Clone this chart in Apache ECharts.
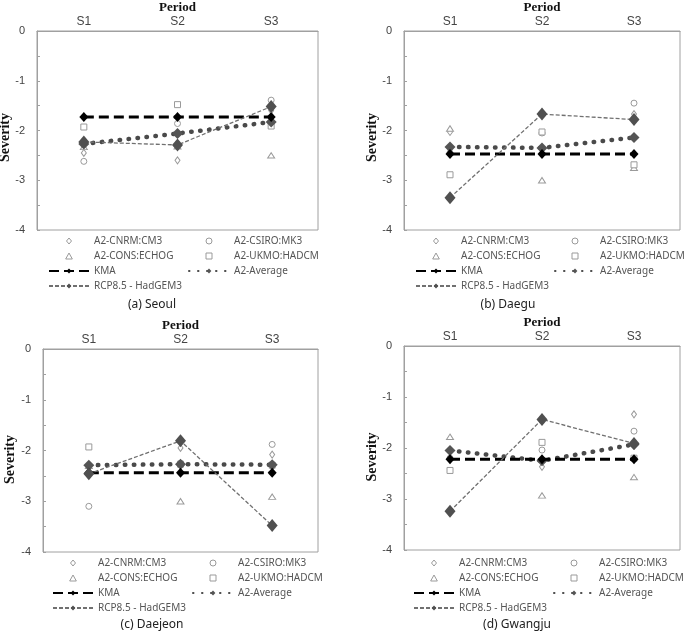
<!DOCTYPE html>
<html>
<head>
<meta charset="utf-8">
<title>Severity by period</title>
<script src="https://cdn.jsdelivr.net/npm/echarts@6.0.0/dist/echarts.min.js"></script>
<style>
  html, body { margin: 0; padding: 0; background: #fff; }
  #chart { width: 691px; height: 641px; }
</style>
</head>
<body>
<div id="chart"></div>
<script>
// periods on the (top) category axis
const periods = ['S1', 'S2', 'S3'];
const cities = ['(a) Seoul', '(b) Daegu', '(c) Daejeon', '(d) Gwangju'];
const yTicks = [0, -1, -2, -3, -4];

// one row per city (Seoul, Daegu, Daejeon, Gwangju), one value per period
const cnrmCM3 = [
  [-2.45, -2.60, -1.60],
  [-2.03, -2.35, -1.67],
  [-2.30, -1.95, -2.08],
  [-2.19, -2.37, -1.34]
];
const csiroMK3 = [
  [-2.62, -1.86, -1.39],
  [-2.45, -2.05, -1.45],
  [-3.10, -2.25, -1.88],
  [-2.20, -2.04, -1.67]
];
const consECHOG = [
  [-2.33, -2.32, -2.50],
  [-1.96, -3.00, -2.75],
  [-2.30, -3.00, -2.91],
  [-1.78, -2.93, -2.57]
];
const ukmoHADCM = [
  [-1.93, -1.48, -1.91],
  [-2.89, -2.03, -2.69],
  [-1.93, -2.27, -2.29],
  [-2.44, -1.89, -2.20]
];
const kma = [
  [-1.73, -1.73, -1.73],
  [-2.47, -2.47, -2.47],
  [-2.44, -2.44, -2.44],
  [-2.22, -2.22, -2.22]
];
const a2Average = [
  [-2.27, -2.06, -1.83],
  [-2.33, -2.35, -2.14],
  [-2.29, -2.27, -2.28],
  [-2.05, -2.25, -1.93]
];
const rcpHadGEM3 = [
  [-2.23, -2.29, -1.52],
  [-3.35, -1.67, -1.78],
  [-2.46, -1.81, -3.48],
  [-3.24, -1.44, -1.91]
];

// layout of the 4 panels (pixels)
const panels = [
  {left: 37, top: 27, width: 281, height: 203, legendTop: 235, col1: 48, col2: 188, capX: 152, capY: 305, sevX: 5},
  {left: 404, top: 27, width: 276, height: 203, legendTop: 235, col1: 415, col2: 554, capX: 508, capY: 305, sevX: 372},
  {left: 43, top: 349, width: 275, height: 203, legendTop: 557, col1: 52, col2: 192, capX: 152, capY: 625, sevX: 10},
  {left: 404, top: 346, width: 276, height: 204, legendTop: 557, col1: 413, col2: 553, capX: 517, capY: 625, sevX: 372}
];

// hollow marker shapes (paths so that the legend keeps their aspect)
const models = [
  {name: 'A2-CNRM:CM3', data: cnrmCM3, symbol: 'path://M5,0L10,6L5,12L0,6Z', size: [6, 7]},
  {name: 'A2-CSIRO:MK3', data: csiroMK3, symbol: 'path://M0,5a5,5 0 1,0 10,0a5,5 0 1,0 -10,0Z', size: 6},
  {name: 'A2-CONS:ECHOG', data: consECHOG, symbol: 'path://M5,0L10,9L0,9Z', size: [7, 6]},
  {name: 'A2-UKMO:HADCM', data: ukmoHADCM, symbol: 'path://M0,0H10V10H0Z', size: 6}
];

const toPoints = (vals) => vals.map((v, j) => [periods[j], v]);

let grid = [], xAxis = [], yAxis = [], series = [], legend = [], graphic = [];

panels.forEach((p, i) => {
  grid.push({
    left: p.left, top: p.top, width: p.width, height: p.height,
    show: true, borderColor: '#a0a0a0', borderWidth: 1, backgroundColor: '#fff'
  });
  xAxis.push({
    type: 'category', gridIndex: i, position: 'top', data: periods,
    name: 'Period', nameLocation: 'middle', nameGap: 17,
    nameTextStyle: {fontFamily: 'Liberation Serif', fontWeight: 'bold', fontSize: 13, color: '#111'},
    axisLine: {lineStyle: {color: '#a0a0a0'}},
    axisTick: {length: 3, lineStyle: {color: '#a0a0a0'}},
    axisLabel: {fontFamily: 'Liberation Sans', fontSize: 12, color: '#444', margin: 3},
    splitLine: {show: false}
  });
  yAxis.push({
    type: 'value', gridIndex: i, min: -4, max: 0, interval: 0.5,
    axisLine: {show: true, lineStyle: {color: '#a0a0a0'}},
    axisTick: {show: true, inside: true, length: 3, lineStyle: {color: '#a0a0a0'}},
    axisLabel: {
      fontFamily: 'Liberation Sans', fontSize: 11, color: '#444', margin: 12,
      formatter: (v) => yTicks.indexOf(v) >= 0 ? String(v) : ''
    },
    splitLine: {show: false}
  });

  models.forEach((m) => {
    series.push({
      name: m.name, type: 'scatter', xAxisIndex: i, yAxisIndex: i,
      symbol: m.symbol, symbolSize: m.size, symbolKeepAspect: true, z: 2,
      itemStyle: {color: '#fff', borderColor: '#9a9a9a', borderWidth: 1, opacity: 1},
      data: toPoints(m.data[i])
    });
  });
  series.push({
    name: 'KMA', type: 'line', xAxisIndex: i, yAxisIndex: i, z: 4,
    symbol: 'diamond', symbolSize: [9, 10],
    itemStyle: {color: '#000'},
    lineStyle: {color: '#000', width: 3, type: [10, 5]},
    data: toPoints(kma[i])
  });
  series.push({
    name: 'A2-Average', type: 'line', xAxisIndex: i, yAxisIndex: i, z: 3,
    symbol: 'diamond', symbolSize: [11, 11],
    itemStyle: {color: '#555'},
    lineStyle: {color: '#4a4a4a', width: 4.5, type: [0.5, 8.5], cap: 'round'},
    data: toPoints(a2Average[i])
  });
  series.push({
    name: 'RCP8.5 - HadGEM3', type: 'line', xAxisIndex: i, yAxisIndex: i, z: 5,
    symbol: 'diamond', symbolSize: [11, 13],
    itemStyle: {color: '#505050'},
    lineStyle: {color: '#707070', width: 1.3, type: [4, 2]},
    data: toPoints(rcpHadGEM3[i])
  });

  const legendBase = {
    orient: 'vertical', top: p.legendTop, padding: 0,
    itemWidth: 40, itemHeight: 6, itemGap: 3, selectedMode: false,
    itemStyle: {borderWidth: 1},
    textStyle: {fontFamily: 'Noto Sans', fontSize: 10, color: '#555', lineHeight: 12}
  };
  legend.push(Object.assign({}, legendBase, {
    left: p.col1, data: ['A2-CNRM:CM3', 'A2-CONS:ECHOG', 'KMA', 'RCP8.5 - HadGEM3']
  }));
  legend.push(Object.assign({}, legendBase, {
    left: p.col2, data: ['A2-CSIRO:MK3', 'A2-UKMO:HADCM', 'A2-Average']
  }));

  graphic.push({
    type: 'text', x: p.sevX, y: p.top + p.height / 2 + 9, rotation: Math.PI / 2,
    style: {
      text: 'Severity', fill: '#111', textAlign: 'center', textVerticalAlign: 'middle',
      font: 'bold 14px "Liberation Serif"'
    }
  });
  graphic.push({
    type: 'text', x: p.capX, y: p.capY,
    style: {
      text: cities[i], fill: '#222', textAlign: 'center', textVerticalAlign: 'middle',
      font: '12px "Noto Sans"'
    }
  });
});

let chart = echarts.init(document.getElementById('chart'));
chart.setOption({
  animation: false,
  backgroundColor: '#fff',
  grid: grid,
  xAxis: xAxis,
  yAxis: yAxis,
  legend: legend,
  graphic: graphic,
  series: series
});
</script>
</body>
</html>
